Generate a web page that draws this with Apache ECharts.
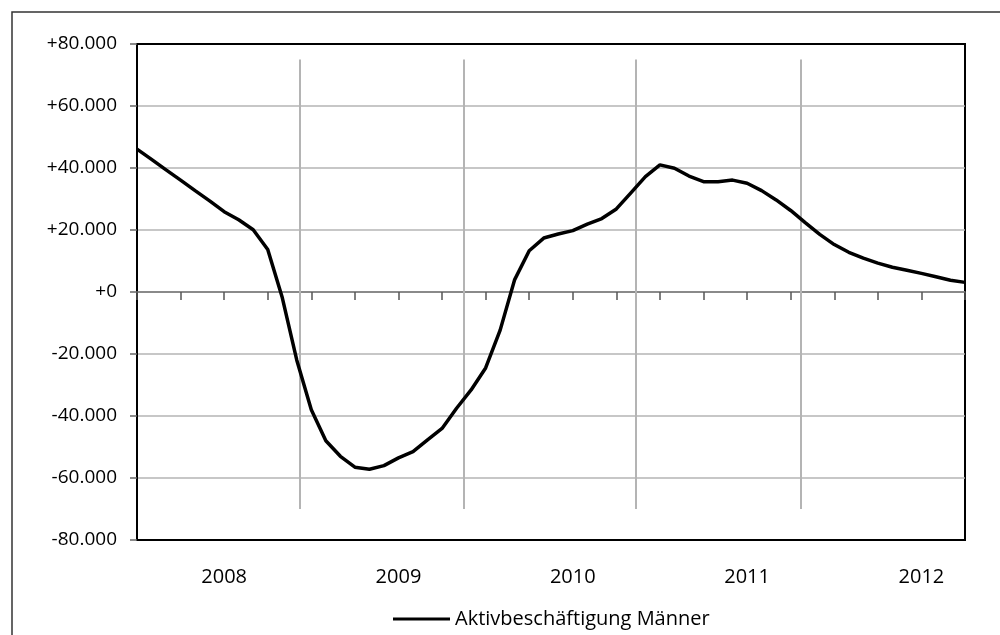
<!DOCTYPE html>
<html>
<head>
<meta charset="utf-8">
<script src="https://cdn.jsdelivr.net/npm/echarts@6/dist/echarts.min.js"></script>
<style>
html,body{margin:0;padding:0;background:#fff;}
#chart{width:1000px;height:635px;}
</style>
</head>
<body>
<div id="chart"></div>
<script>
// Month index (0 = first month shown), one value per month
const yearLabels = ['2008', '2009', '2010', '2011', '2012'];
const seriesName = 'Aktivbeschäftigung Männer';
const values = [
  46100, 42800, 39400, 36100, 32700, 29400, 25900, 23300, 20100, 13700,
  -1800, -22000, -38000, -48000, -53000, -56500, -57200, -56000, -53500, -51500,
  -47700, -44000, -37500, -31600, -24500, -12300, 4000, 13300, 17400, 18700,
  19800, 21900, 23700, 26800, 32000, 37200, 41000, 39900, 37400, 35600,
  35600, 36100, 35100, 32700, 29700, 26300, 22400, 18600, 15300, 12800,
  10900, 9300, 8000, 7000, 6000, 4900, 3800, 3100
];
// Positions (month index) of the grey vertical marker lines and their extent
const markerPositions = [11.2, 22.5, 34.3, 45.7];
const markerTop = 75000;
const markerBottom = -70000;
const yTicks = { min: -80000, max: 80000, step: 20000 };

const data = values.map((v, i) => [i, v]);
const lastIdx = values.length - 1;

function fmtY(v) {
  const s = Math.abs(v).toString().replace(/\B(?=(\d{3})+(?!\d))/g, '.');
  return (v >= 0 ? '+' : '-') + s;
}

const chart = echarts.init(document.getElementById('chart'));
const FONT = 'Open Sans';
chart.setOption({
  animation: false,
  backgroundColor: '#fff',
  graphic: [{
    type: 'rect',
    shape: { x: 12, y: 12, width: 1100, height: 1000 },
    style: { fill: 'none', stroke: '#333', lineWidth: 1.5 },
    silent: true,
    z: -10
  }],
  grid: {
    left: 137, top: 44, right: 35, bottom: 95,
    show: true, borderColor: '#000', borderWidth: 2, backgroundColor: 'transparent'
  },
  legend: {
    data: [seriesName],
    left: 388, top: 603,
    icon: 'rect', itemWidth: 57, itemHeight: 3,
    textStyle: { fontFamily: FONT, fontSize: 20, color: '#000', lineHeight: 22 },
    itemStyle: { color: '#000' }
  },
  xAxis: [{
    type: 'value', min: 0, max: lastIdx, interval: 3,
    axisLine: { show: true, onZero: true, lineStyle: { color: '#777', width: 1.5 } },
    axisTick: { show: true, length: 8, lineStyle: { color: '#555', width: 1.5 } },
    axisLabel: { show: false },
    splitLine: { show: false }
  }, {
    type: 'value', min: 0, max: lastIdx, interval: 3, position: 'bottom',
    axisLine: { show: false, onZero: false },
    axisTick: { show: false },
    splitLine: { show: false },
    axisLabel: {
      show: true, margin: 27, showMinLabel: true, showMaxLabel: true,
      fontFamily: FONT, fontSize: 20, color: '#000',
      formatter: (v) => ((v - 6) % 12 === 0 && v >= 6) ? (yearLabels[(v - 6) / 12] || '') : ''
    }
  }],
  yAxis: {
    type: 'value', min: yTicks.min, max: yTicks.max, interval: yTicks.step,
    axisLine: { show: true, lineStyle: { color: '#000', width: 2 } },
    axisTick: { show: true, length: 7, lineStyle: { color: '#666', width: 1.5 } },
    axisLabel: { margin: 20, fontFamily: FONT, fontSize: 19, color: '#000', formatter: fmtY },
    splitLine: { show: true, showMinLine: false, showMaxLine: false, lineStyle: { color: '#b4b4b4', width: 1.5 } }
  },
  series: [{
    name: seriesName,
    type: 'line',
    xAxisIndex: 0,
    data: data,
    showSymbol: false,
    symbol: 'none',
    lineStyle: { color: '#000', width: 3.5 },
    itemStyle: { color: '#000' },
    z: 5,
    markLine: {
      silent: true,
      symbol: 'none',
      label: { show: false },
      lineStyle: { color: '#b4b4b4', width: 2, type: 'solid' },
      z: 1,
      data: markerPositions.map(p => [{ coord: [p, markerTop] }, { coord: [p, markerBottom] }])
    }
  }]
});
</script>
</body>
</html>
